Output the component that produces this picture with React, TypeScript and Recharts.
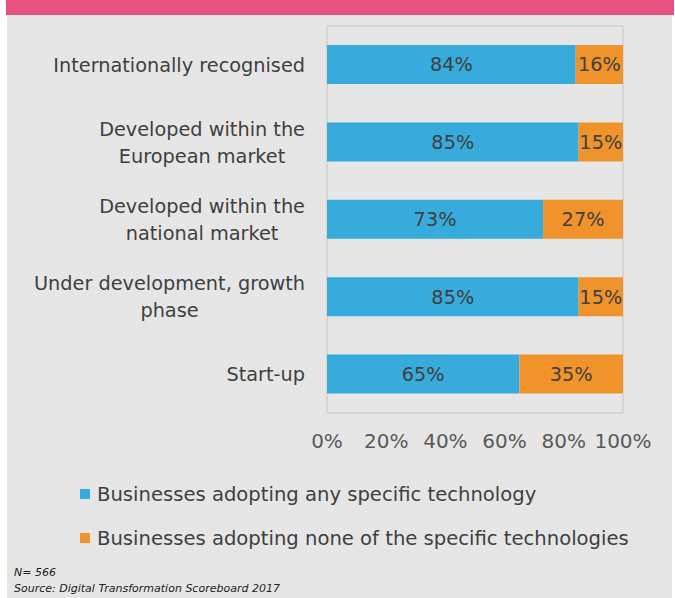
import { Bar, BarChart, CartesianGrid, LabelList, Legend, XAxis, YAxis } from "recharts";

const CATEGORIES = [
  "Internationally recognised",
  "Developed within the\nEuropean market",
  "Developed within the\nnational market",
  "Under development, growth\nphase",
  "Start-up",
];
const ADOPTING_ANY = [84, 85, 73, 85, 65];
const ADOPTING_NONE = [16, 15, 27, 15, 35];
const X_TICKS = [0, 20, 40, 60, 80, 100];

const SERIES = [
  { key: "any", name: "Businesses adopting any specific technology", color: "#36abdc" },
  { key: "none", name: "Businesses adopting none of the specific technologies", color: "#f0932b" },
];

const FONT = '"DejaVu Sans", sans-serif';
const FS = 19.3;
const TEXT = "#404040";

const data = CATEGORIES.map((c, i) => ({ cat: c, any: ADOPTING_ANY[i], none: ADOPTING_NONE[i] }));

let ctx: CanvasRenderingContext2D | null = null;
function measure(s: string) {
  if (!ctx) {
    ctx = document.createElement("canvas").getContext("2d");
    if (ctx) ctx.font = `${FS}px ${FONT}`;
  }
  return ctx ? ctx.measureText(s).width : s.length * FS * 0.55;
}

// two-line labels: block right-aligned against the axis, lines centred inside it
function CategoryTick({ x, y, payload }: any) {
  const lines = String(payload.value).split("\n");
  const w = Math.max(...lines.map(measure));
  const cx = x - w / 2;
  const lh = 27;
  const y0 = y - ((lines.length - 1) * lh) / 2;
  return (
    <text x={cx} y={y0} textAnchor="middle" fill={TEXT} fontSize={FS} fontFamily={FONT} dominantBaseline="central">
      {lines.map((l, i) => (
        <tspan key={i} x={cx} y={y0 + i * lh}>
          {l}
        </tspan>
      ))}
    </text>
  );
}

function LegendBlock() {
  return (
    <div style={{ fontFamily: FONT, fontSize: 19.6, color: TEXT }}>
      {SERIES.map((s) => (
        <div key={s.key} style={{ display: "flex", alignItems: "center", height: 44 }}>
          <span style={{ width: 10, height: 10, background: s.color, marginRight: 7, display: "inline-block" }} />
          <span>{s.name}</span>
        </div>
      ))}
    </div>
  );
}

export default function App() {
  return (
    <div style={{ position: "absolute", left: 0, top: 0, width: 675, height: 598, overflow: "hidden" }}>
      <div style={{ position: "absolute", left: 6, top: 0, width: 668, height: 15, background: "#e8527f" }} />
      <div style={{ position: "absolute", left: 7, top: 15, width: 665, height: 583, background: "#e6e6e6" }} />
      <div style={{ position: "absolute", left: 0, top: 0 }}>
        <BarChart
          width={675}
          height={598}
          data={data}
          layout="vertical"
          margin={{ top: 26, right: 52, bottom: 137, left: 0 }}
        >
          <CartesianGrid
            stroke="#d6d6d6"
            strokeWidth={2}
            verticalCoordinatesGenerator={({ offset }: any) => [offset.left, offset.left + offset.width]}
            horizontalCoordinatesGenerator={({ offset }: any) => [offset.top, offset.top + offset.height]}
          />
          <XAxis
            type="number"
            domain={[0, 100]}
            ticks={X_TICKS}
            interval={0}
            tickFormatter={(v) => `${v}%`}
            axisLine={false}
            tickLine={false}
            tickMargin={15}
            height={48}
            tick={{ fill: "#595959", fontSize: 20, fontFamily: FONT }}
          />
          <YAxis
            type="category"
            dataKey="cat"
            width={327}
            axisLine={false}
            tickLine={false}
            tickMargin={16}
            interval={0}
            tick={<CategoryTick />}
          />
          <Legend
            layout="vertical"
            verticalAlign="middle"
            align="center"
            wrapperStyle={{ left: 80, top: 472, width: 590 }}
            content={() => <LegendBlock />}
          />
          {SERIES.map((s) => (
            <Bar key={s.key} dataKey={s.key} name={s.name} stackId="a" fill={s.color} barSize={39} isAnimationActive={false}>
              <LabelList
                dataKey={s.key}
                position="center"
                formatter={(v: any) => `${v}%`}
                fill={TEXT}
                fontSize={FS}
                fontFamily={FONT}
              />
            </Bar>
          ))}
        </BarChart>
      </div>
      <div
        style={{
          position: "absolute",
          left: 14,
          top: 565,
          fontFamily: FONT,
          fontStyle: "italic",
          fontSize: 11,
          lineHeight: "16px",
          color: "#222",
        }}
      >
        <div>N= 566</div>
        <div>Source: Digital Transformation Scoreboard 2017</div>
      </div>
    </div>
  );
}
